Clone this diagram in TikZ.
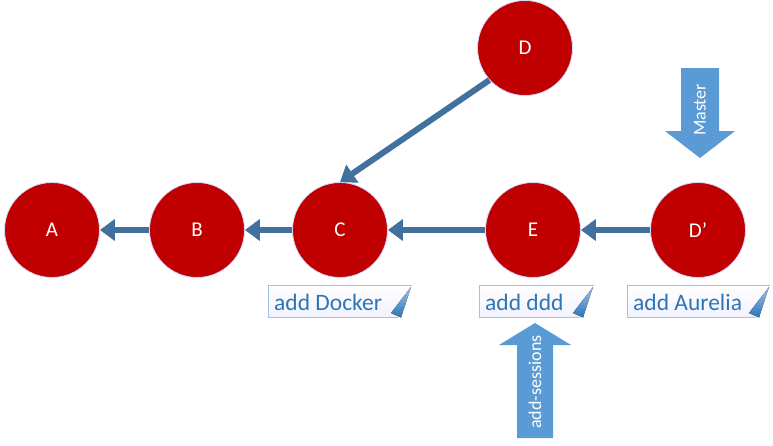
\documentclass[tikz,border=0pt]{standalone}
\usepackage{fontspec}
\setmainfont{Carlito}
\usetikzlibrary{arrows.meta}
\definecolor{cred}{HTML}{C00000}
\definecolor{conn}{HTML}{41719C}
\definecolor{blk}{HTML}{5B9BD5}
\definecolor{notebd}{HTML}{9DC3E6}
\definecolor{notetx}{HTML}{2E75B6}
\definecolor{folddk}{HTML}{2E75B6}
\tikzset{
  commit/.style={circle,fill=cred,draw=white!85!blue,line width=0.8pt,minimum size=95pt,inner sep=0pt,text=white,font=\fontsize{21}{23}\selectfont},
  link/.style={draw=conn,line width=6pt,-{Triangle[length=15pt,width=21pt]}},
  notetext/.style={anchor=west,inner sep=0pt,text=notetx,font=\fontsize{23.5}{25}\selectfont},
  notefill/.style={draw=notebd,line width=0.9pt,top color=white,bottom color=blue!5!white},
  foldfill/.style={top color=blk!60!white,bottom color=folddk},
  blockarrow/.style={fill=blk},
  blocktext/.style={text=white,font=\fontsize{18}{20}\selectfont,rotate=90,inner sep=0pt}
}
\begin{document}
\begin{tikzpicture}[x=1pt,y=-1pt]
\useasboundingbox (0,0) rectangle (773,445);
\node[commit] (A) at (52,230) {A};
\node[commit] (B) at (197,230) {B};
\node[commit] (C) at (340,230) {C};
\node[commit] (E) at (533,230) {E};
\node[commit] (Dp) at (698,230) {D'};
\node[commit] (D) at (525,48) {D};
\draw[link] (B.west) -- (A.east);
\draw[link] (C.west) -- (B.east);
\draw[link] (E.west) -- (C.east);
\draw[link] (Dp.west) -- (E.east);
\draw[link] (D.-138) -- (C.north);
% notes
\foreach \n/\xl/\xr/\t in {n1/268/412/add Docker,n2/479/594/add ddd,n3/627/770/add Aurelia}{
  \path[notefill] ({\xr},285) -- ({\xl},285) -- ({\xl},317) -- ({\xr-14},317);
  \fill[foldfill] ({\xr-1},287) .. controls ({\xr-6},302) .. ({\xr-11},317.5) -- ({\xr-21},313) -- cycle;
  \node[notetext] (\n) at ({\xl+6},302) {\t};
}
% block arrows
\fill[blockarrow] (681,68) -- (719,68) -- (719,131) -- (735,131) -- (700,158) -- (665,131) -- (681,131) -- cycle;
\node[blocktext] (master) at (700,110) {Master};
\fill[blockarrow] (517,438) -- (553,438) -- (553,345) -- (571,345) -- (535,323) -- (499,345) -- (517,345) -- cycle;
\node[blocktext] (sess) at (535,382) {add-sessions};
\end{tikzpicture}
\end{document}
